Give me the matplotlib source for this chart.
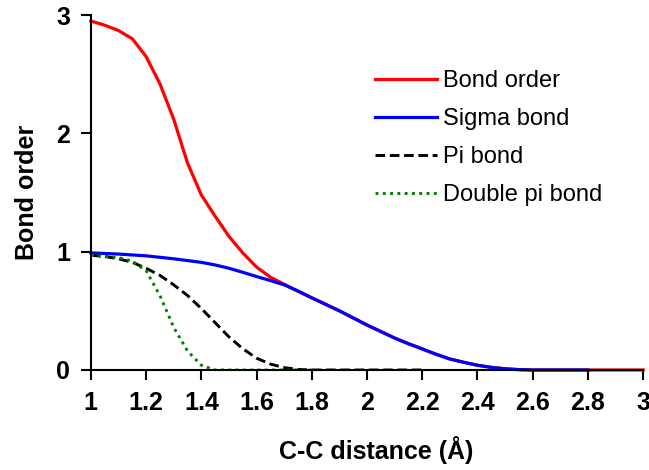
import matplotlib
matplotlib.use("Agg")
import matplotlib.pyplot as plt

plt.rcParams["font.family"] = ["Liberation Sans", "DejaVu Sans"]

# Distancia C-C (Å) e ordens de ligação
dist_ordem = [1.0, 1.05, 1.1, 1.15, 1.2, 1.25, 1.3, 1.35, 1.4, 1.45, 1.5, 1.55, 1.6, 1.65, 1.7, 1.75,
              1.8, 1.85, 1.9, 1.95, 2.0, 2.05, 2.1, 2.15, 2.2, 2.25, 2.3, 2.35, 2.4, 2.45, 2.5, 2.55,
              2.6, 2.7, 2.8, 2.9, 3.0]
ordem = [2.95, 2.915, 2.87, 2.8, 2.65, 2.42, 2.12, 1.75, 1.48, 1.30, 1.13, 0.99, 0.87, 0.785, 0.725, 0.665,
         0.61, 0.555, 0.50, 0.44, 0.38, 0.325, 0.27, 0.222, 0.178, 0.133, 0.093, 0.065, 0.04, 0.022, 0.01,
         0.003, 0.0, 0.0, 0.0, 0.0, 0.0]

dist_sigma = [1.0, 1.1, 1.2, 1.3, 1.4, 1.45, 1.5, 1.55, 1.6, 1.65, 1.7, 1.75, 1.8, 1.85, 1.9, 1.95,
              2.0, 2.05, 2.1, 2.15, 2.2, 2.25, 2.3, 2.35, 2.4, 2.45, 2.5, 2.55, 2.6, 2.7, 2.8]
sigma = [0.99, 0.98, 0.965, 0.94, 0.91, 0.888, 0.86, 0.826, 0.79, 0.756, 0.72, 0.668, 0.61, 0.555, 0.50,
         0.44, 0.38, 0.325, 0.27, 0.222, 0.178, 0.133, 0.093, 0.065, 0.04, 0.022, 0.01, 0.003, 0.0, 0.0, 0.0]

dist_pi = [1.0, 1.05, 1.1, 1.15, 1.2, 1.25, 1.3, 1.35, 1.4, 1.45, 1.5, 1.55, 1.6, 1.65, 1.7, 1.75,
           1.8, 1.9, 2.0, 2.1, 2.2]
pi = [0.97, 0.96, 0.94, 0.91, 0.86, 0.80, 0.72, 0.63, 0.52, 0.40, 0.28, 0.18, 0.10, 0.05, 0.02, 0.005,
      0.0, 0.0, 0.0, 0.0, 0.0]

dist_dpi = [1.0, 1.05, 1.1, 1.15, 1.2, 1.25, 1.3, 1.35, 1.4, 1.45, 1.5, 1.6, 1.7, 1.8]
dpi_ = [0.97, 0.96, 0.95, 0.92, 0.84, 0.63, 0.36, 0.16, 0.04, 0.0, 0.0, 0.0, 0.0, 0.0]

xticks = [1, 1.2, 1.4, 1.6, 1.8, 2, 2.2, 2.4, 2.6, 2.8, 3]
xlabels = ["1", "1.2", "1.4", "1.6", "1.8", "2", "2.2", "2.4", "2.6", "2.8", "3"]
yticks = [0, 1, 2, 3]

fig = plt.figure(figsize=(6.49, 4.70), dpi=100)
ax = fig.add_axes([0.140, 0.2128, 0.851, 0.755])

ax.plot(dist_ordem, ordem, color="#ff0000", lw=2.3, label="Bond order", clip_on=False,
        solid_joinstyle="round")
ax.plot(dist_sigma, sigma, color="#0000ff", lw=2.3, label="Sigma bond", clip_on=False,
        solid_joinstyle="round")
ax.plot(dist_pi, pi, color="black", lw=2.1, dashes=(3.3, 1.6), label="Pi bond")
ax.plot(dist_dpi, dpi_, color="#008000", lw=2.1, dashes=(1, 1.5), label="Double pi bond")

ax.set(xlim=(1, 3), ylim=(0, 3))
ax.set_xticks(xticks)
ax.set_xticklabels(xlabels)
ax.set_yticks(yticks)

for s in ["top", "right"]:
    ax.spines[s].set_visible(False)
for s in ["left", "bottom"]:
    ax.spines[s].set_linewidth(1.5)

ax.tick_params(direction="out", length=7, width=1.5, labelsize=18, pad=8)
for lab in ax.get_xticklabels() + ax.get_yticklabels():
    lab.set_fontweight("bold")

ax.set_xlabel("C-C distance (Å)", fontsize=18, fontweight="bold")
ax.set_ylabel("Bond order", fontsize=18, fontweight="bold", labelpad=12)
ax.xaxis.set_label_coords(0.516, -0.185)

ax.legend(loc="upper left", bbox_to_anchor=(0.514, 0.846), frameon=False, fontsize=17,
          handlelength=2.63, handletextpad=0.25, labelspacing=0.68, borderpad=0, borderaxespad=0)

fig.savefig("out.png", dpi=100)
